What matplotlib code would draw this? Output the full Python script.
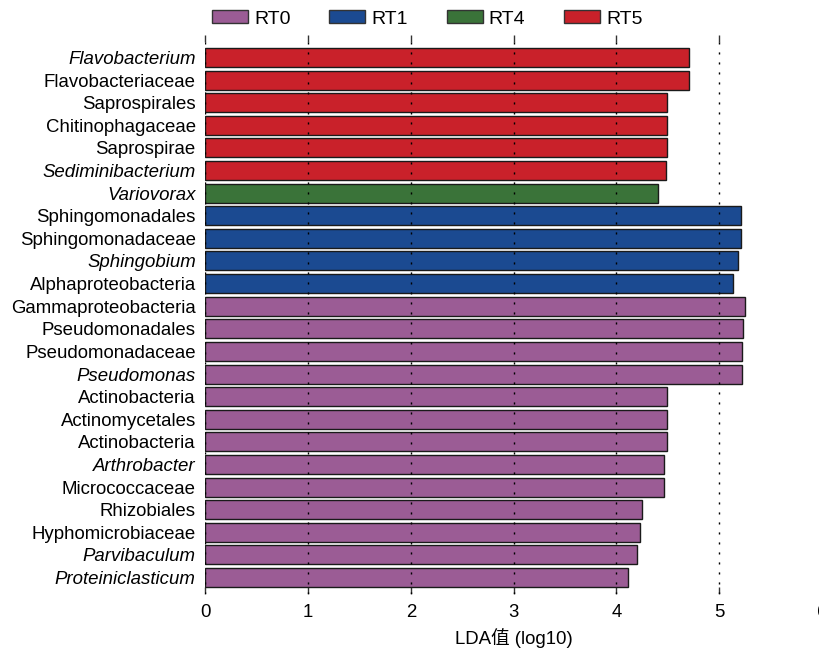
import matplotlib
matplotlib.use("Agg")
import matplotlib.pyplot as plt
import matplotlib.patches as mpatches

plt.rcParams['font.family'] = ['Liberation Sans', 'Noto Sans CJK SC', 'DejaVu Sans']

# LEfSe results, listed top to bottom as drawn
taxa = ["Flavobacterium", "Flavobacteriaceae", "Saprospirales", "Chitinophagaceae",
        "Saprospirae", "Sediminibacterium", "Variovorax", "Sphingomonadales",
        "Sphingomonadaceae", "Sphingobium", "Alphaproteobacteria", "Gammaproteobacteria",
        "Pseudomonadales", "Pseudomonadaceae", "Pseudomonas", "Actinobacteria",
        "Actinomycetales", "Actinobacteria", "Arthrobacter", "Micrococcaceae",
        "Rhizobiales", "Hyphomicrobiaceae", "Parvibaculum", "Proteiniclasticum"]
lda = [4.71, 4.71, 4.49, 4.49, 4.49, 4.48, 4.40, 5.21, 5.21, 5.18, 5.13, 5.25,
       5.23, 5.22, 5.22, 4.49, 4.49, 4.49, 4.46, 4.46, 4.25, 4.23, 4.20, 4.11]
group = ["RT5", "RT5", "RT5", "RT5", "RT5", "RT5", "RT4", "RT1", "RT1", "RT1", "RT1",
         "RT0", "RT0", "RT0", "RT0", "RT0", "RT0", "RT0", "RT0", "RT0", "RT0", "RT0",
         "RT0", "RT0"]
genus = ["Flavobacterium", "Sediminibacterium", "Variovorax", "Sphingobium",
         "Pseudomonas", "Arthrobacter", "Parvibaculum", "Proteiniclasticum"]

group_names = ["RT0", "RT1", "RT4", "RT5"]
group_colors = {"RT0": "#9b5c95", "RT1": "#1b4a91", "RT4": "#3a7339", "RT5": "#c9212a"}

fig = plt.figure(figsize=(8.2, 6.52), dpi=100)
ax = fig.add_axes([205.5 / 820, 58 / 652, 616.5 / 820, 559 / 652])

ypos = list(range(len(taxa)))
ax.barh(ypos, lda, height=0.84, color=[group_colors[g] for g in group],
        edgecolor="#1a1a1a", linewidth=1.0, zorder=2)

ax.set_xlim(0, 6)
ax.set_ylim(23.73, -0.995)
ax.set_xticks(range(0, 7))
ax.set_yticks(ypos)
ax.set_yticklabels(taxa, fontsize=13.4)
for lab, name in zip(ax.get_yticklabels(), taxa):
    if name in genus:
        lab.set_fontstyle("italic")

for s in ax.spines.values():
    s.set_visible(False)

ax.tick_params(axis="y", length=0, pad=7)
ax.tick_params(axis="x", labelsize=13.4, direction="in", length=5, width=1,
               color="#333333", top=True, pad=7)
for xv in range(0, 6):
    ax.axvline(xv, color="black", linewidth=1, linestyle=(0, (1.5, 5.7)), zorder=3)

ax.set_xlabel("LDA值 (log10)", fontsize=13.4, labelpad=5)

handles = [mpatches.Patch(facecolor=group_colors[g], edgecolor="#333333",
                          linewidth=1, label=g) for g in group_names]
fig.legend(handles=handles, loc="center left", bbox_to_anchor=(212 / 820, 1 - 19 / 652),
           ncol=4, frameon=False, fontsize=14, handlelength=1.85, handleheight=0.62,
           handletextpad=0.31, columnspacing=2.0, borderpad=0, borderaxespad=0)

fig.savefig("out.png", dpi=100)
